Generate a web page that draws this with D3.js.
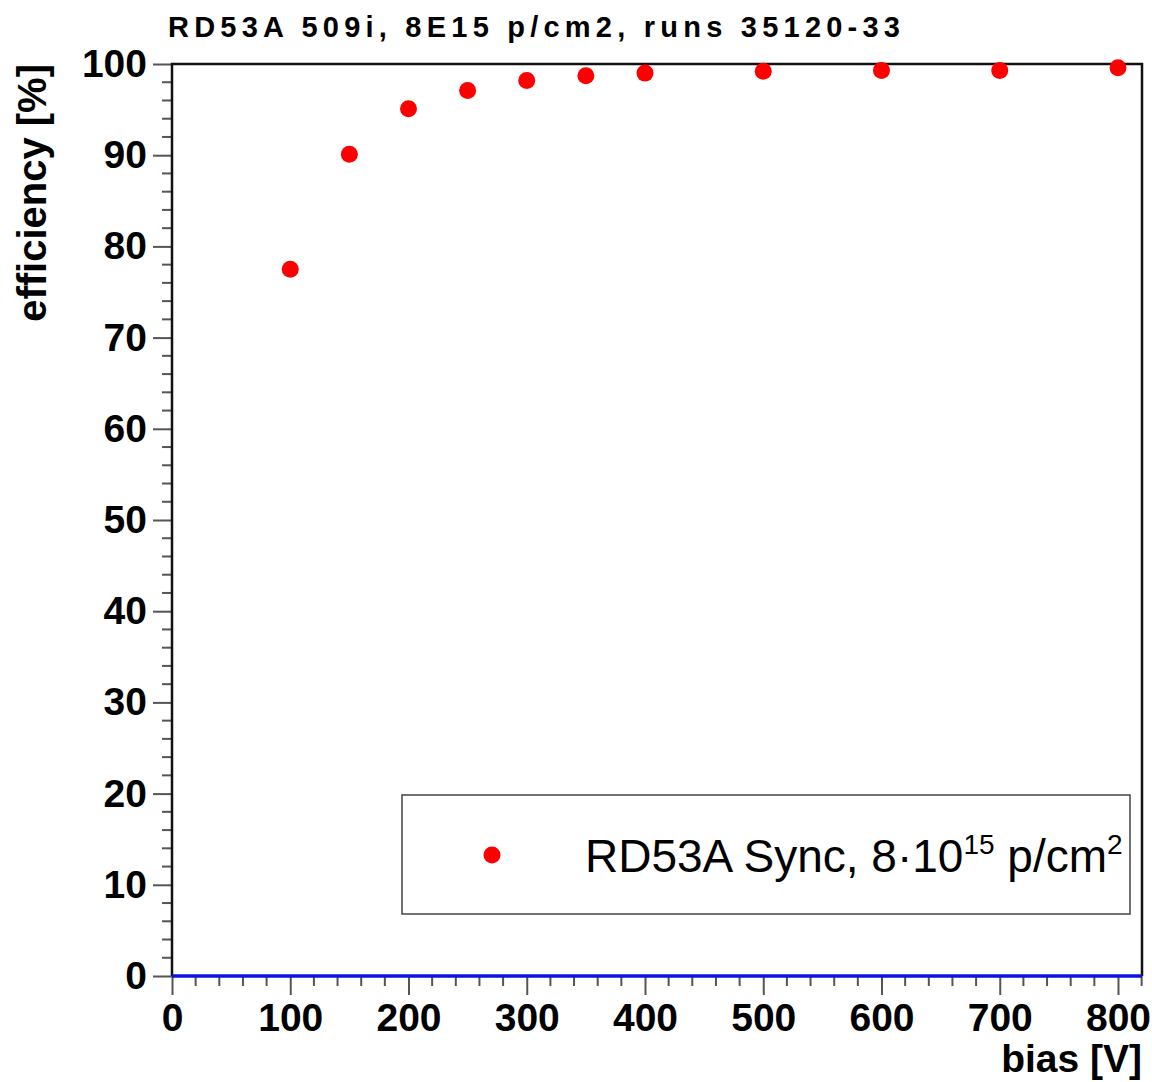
<!DOCTYPE html>
<html>
<head>
<meta charset="utf-8">
<script src="https://cdn.jsdelivr.net/npm/d3@7"></script>
<style>
  body { margin: 0; background: #fff; }
  text { font-family: "Liberation Sans", Arial, Helvetica, sans-serif; }
</style>
</head>
<body>
<script>
// bias voltage [V] and measured efficiency [%]
const biasV = [100, 150, 200, 250, 300, 350, 400, 500, 600, 700, 800];
const effPct = [77.5, 90.1, 95.1, 97.1, 98.2, 98.7, 99.0, 99.2, 99.3, 99.3, 99.6];
const xTicks = [0, 100, 200, 300, 400, 500, 600, 700, 800];
const yTicks = [0, 10, 20, 30, 40, 50, 60, 70, 80, 90, 100];

const w = 1152;
const h = 1082;
const m = { left: 172, right: 10, top: 64, bottom: 106 };

const svg = d3.select("body")
  .append("svg")
  .attr("width", w)
  .attr("height", h);

const x = d3.scaleLinear().domain([0, 820.3]).range([m.left, w - m.right]);
const y = d3.scaleLinear().domain([0, 100]).range([h - m.bottom, m.top]);

// title
svg.append("text")
  .text("RD53A 509i, 8E15 p/cm2, runs 35120-33")
  .attr("x", 168)
  .attr("y", 37)
  .attr("font-size", 29)
  .attr("font-weight", "bold")
  .attr("textLength", 732)
  .attr("lengthAdjust", "spacing");

// y axis
const yAxis = d3.axisLeft(y)
  .tickValues(yTicks)
  .tickSize(19)
  .tickPadding(6)
  .tickSizeOuter(0);

const gy = svg.append("g")
  .attr("transform", `translate(${m.left},0)`)
  .call(yAxis);

gy.selectAll(".tick line").attr("stroke", "#555").attr("stroke-width", 2);
gy.selectAll(".tick text")
  .attr("font-size", 39)
  .attr("font-weight", "bold")
  .attr("fill", "#000")
  .attr("font-family", "Liberation Sans, Arial, sans-serif");
gy.select(".domain").remove();

const yMinor = d3.range(0, 100, 2).filter(v => v % 10 !== 0);
svg.append("g").selectAll("line")
  .data(yMinor)
  .enter()
  .append("line")
  .attr("x1", m.left - 10)
  .attr("x2", m.left)
  .attr("y1", d => y(d))
  .attr("y2", d => y(d))
  .attr("stroke", "#555")
  .attr("stroke-width", 2);

// x axis
const xAxis = d3.axisBottom(x)
  .tickValues(xTicks)
  .tickSize(19)
  .tickPadding(8)
  .tickSizeOuter(0);

const gx = svg.append("g")
  .attr("transform", `translate(0,${h - m.bottom})`)
  .call(xAxis);

gx.selectAll(".tick line").attr("stroke", "#555").attr("stroke-width", 2);
gx.selectAll(".tick text")
  .attr("font-size", 39)
  .attr("font-weight", "bold")
  .attr("fill", "#000")
  .attr("font-family", "Liberation Sans, Arial, sans-serif");
gx.select(".domain").remove();

const xMinor = d3.range(0, 821, 20).filter(v => v % 100 !== 0);
svg.append("g").selectAll("line")
  .data(xMinor)
  .enter()
  .append("line")
  .attr("x1", d => x(d))
  .attr("x2", d => x(d))
  .attr("y1", h - m.bottom)
  .attr("y2", h - m.bottom + 10)
  .attr("stroke", "#555")
  .attr("stroke-width", 2);

// frame
svg.append("path")
  .attr("d", `M${m.left},${h - m.bottom}V${m.top}H${w - m.right}V${h - m.bottom}`)
  .attr("fill", "none")
  .attr("stroke", "#111")
  .attr("stroke-width", 2.5);

// zero line
svg.append("line")
  .attr("x1", x(0))
  .attr("x2", x(820.3))
  .attr("y1", y(0))
  .attr("y2", y(0))
  .attr("stroke", "#1010e0")
  .attr("stroke-width", 3.5);

// axis titles
svg.append("text")
  .text("efficiency [%]")
  .attr("transform", "translate(46,64) rotate(-90)")
  .attr("text-anchor", "end")
  .attr("font-size", 40)
  .attr("font-weight", "bold");

svg.append("text")
  .text("bias [V]")
  .attr("x", w - m.right)
  .attr("y", 1072)
  .attr("text-anchor", "end")
  .attr("font-size", 39)
  .attr("font-weight", "bold");

// points
svg.append("g").selectAll("circle")
  .data(biasV)
  .enter()
  .append("circle")
  .attr("cx", d => x(d))
  .attr("cy", (d, i) => y(effPct[i]))
  .attr("r", 8.5)
  .attr("fill", "#ff0000");

// legend
const legend = svg.append("g");
legend.append("rect")
  .attr("x", 402)
  .attr("y", 795)
  .attr("width", 728)
  .attr("height", 119)
  .attr("fill", "#fff")
  .attr("stroke", "#444")
  .attr("stroke-width", 1.5);

legend.append("circle")
  .attr("cx", 492)
  .attr("cy", 855)
  .attr("r", 8.5)
  .attr("fill", "#ff0000");

const lt = legend.append("text")
  .attr("x", 585)
  .attr("y", 872)
  .attr("font-size", 46);
lt.append("tspan").text("RD53A Sync, 8\u00B710");
lt.append("tspan").text("15").attr("font-size", 28).attr("dy", -18);
lt.append("tspan").text(" p/cm").attr("font-size", 46).attr("dy", 18);
lt.append("tspan").text("2").attr("font-size", 28).attr("dy", -18);
</script>
</body>
</html>
